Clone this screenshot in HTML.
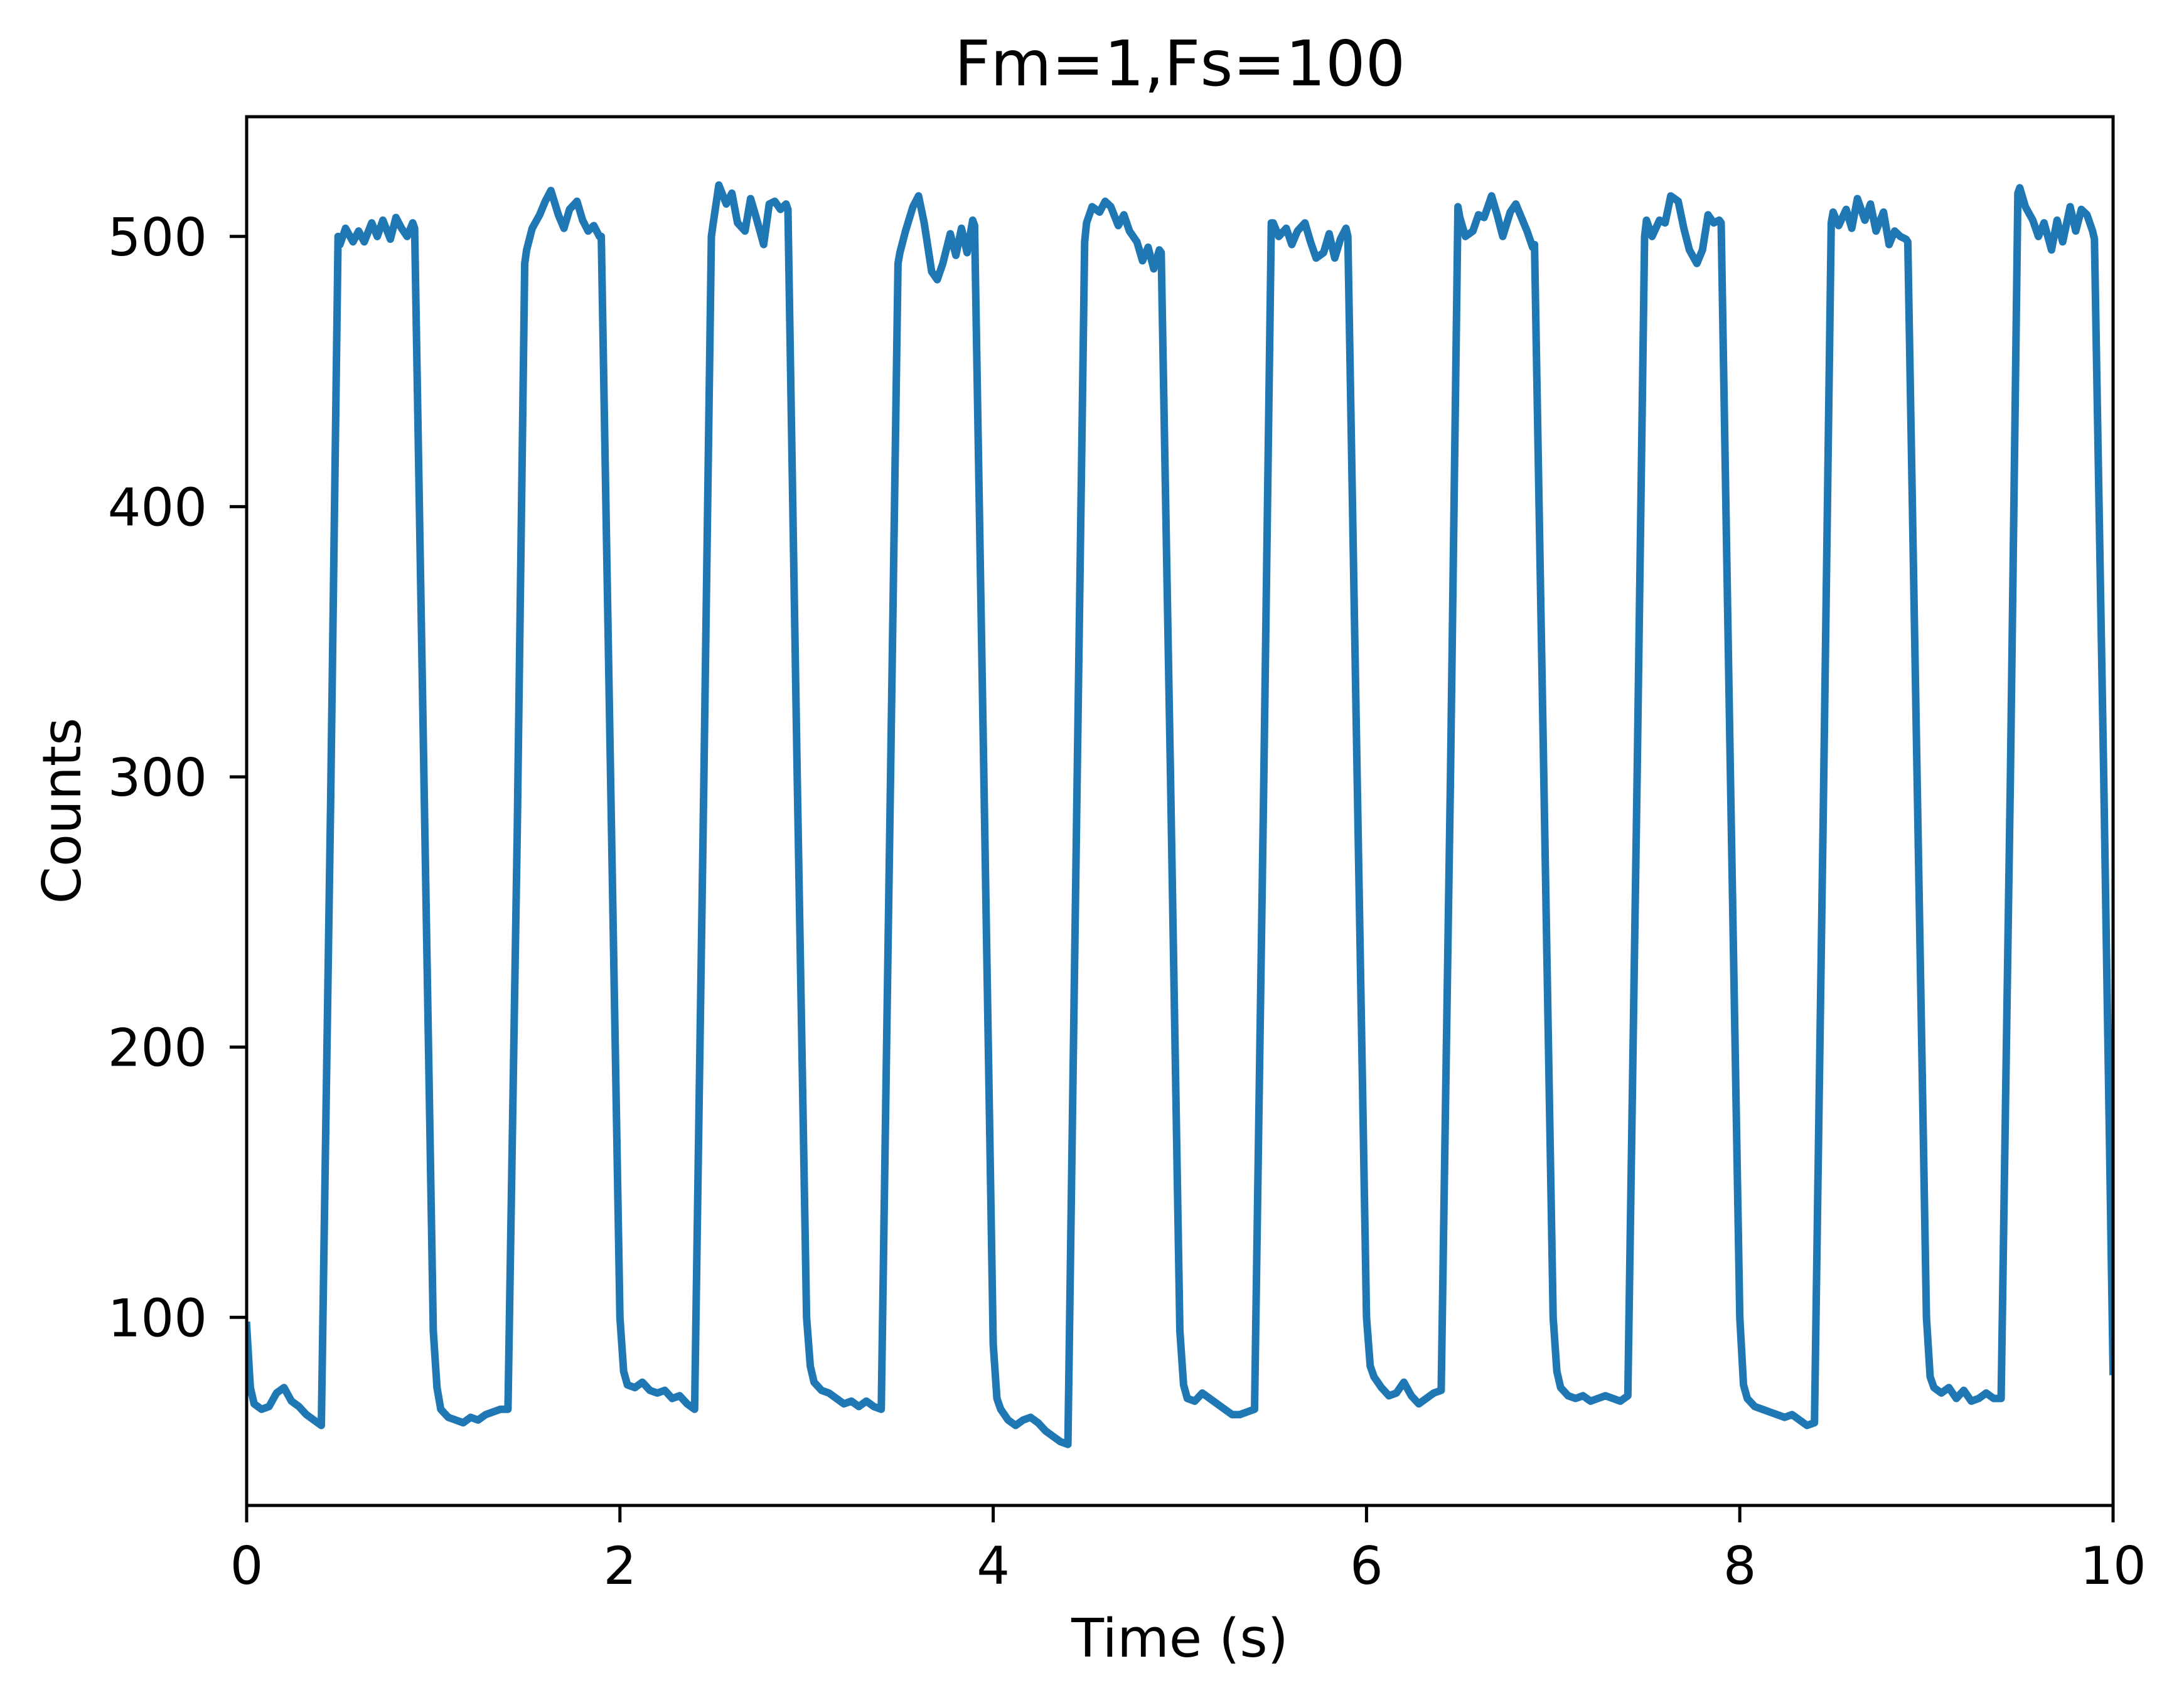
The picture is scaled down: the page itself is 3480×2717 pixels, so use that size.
<!DOCTYPE html>
<html><head><meta charset="utf-8">
<style>
html,body{margin:0;padding:0;background:#fff;}
svg{display:block;font-family:"DejaVu Sans","Liberation Sans",sans-serif;}
</style></head>
<body>
<svg id="chart" width="3480" height="2717" viewBox="0 0 3480 2717" xmlns="http://www.w3.org/2000/svg">
<rect width="3480" height="2717" fill="#fff"/>
<text x="1880" y="136" font-size="100" text-anchor="middle" fill="#000">Fm=1,Fs=100</text>
<g id="plot"></g>
<text x="1880" y="2640" font-size="85" text-anchor="middle" fill="#000">Time (s)</text>
<text transform="translate(128,1292) rotate(-90)" font-size="85" text-anchor="middle" fill="#000">Counts</text>
</svg>
<script>
const xTicks = [0, 2, 4, 6, 8, 10];
const yTicks = [100, 200, 300, 400, 500];
const times = [
0.00,0.02,0.04,0.08,0.12,0.16,0.20,0.24,0.28,0.32,0.36,0.40,
0.45,0.49,0.50,0.53,0.57,0.60,0.63,0.67,0.70,0.73,0.77,0.80,0.83,0.86,0.89,0.90,0.95,1.00,1.02,
1.04,1.08,1.12,1.16,1.20,1.24,1.28,1.32,1.36,1.40,
1.45,1.49,1.50,1.53,1.57,1.60,1.63,1.67,1.70,1.73,1.77,1.80,1.83,1.86,1.89,1.90,1.95,2.00,2.02,
2.04,2.08,2.12,2.16,2.20,2.24,2.28,2.32,2.36,2.40,
2.45,2.49,2.50,2.53,2.57,2.60,2.63,2.67,2.70,2.73,2.77,2.80,2.83,2.86,2.89,2.90,2.95,3.00,3.02,
3.04,3.08,3.12,3.16,3.20,3.24,3.28,3.32,3.36,3.40,
3.45,3.49,3.50,3.53,3.57,3.60,3.63,3.67,3.70,3.73,3.77,3.80,3.83,3.86,3.89,3.90,3.95,4.00,4.02,
4.04,4.08,4.12,4.16,4.20,4.24,4.28,4.32,4.36,4.40,
4.45,4.49,4.50,4.53,4.57,4.60,4.63,4.67,4.70,4.73,4.77,4.80,4.83,4.86,4.89,4.90,4.95,5.00,5.02,
5.04,5.08,5.12,5.16,5.20,5.24,5.28,5.32,5.36,5.40,
5.45,5.49,5.50,5.53,5.57,5.60,5.63,5.67,5.70,5.73,5.77,5.80,5.83,5.86,5.89,5.90,5.95,6.00,6.02,
6.04,6.08,6.12,6.16,6.20,6.24,6.28,6.32,6.36,6.40,
6.45,6.49,6.50,6.53,6.57,6.60,6.63,6.67,6.70,6.73,6.77,6.80,6.83,6.86,6.89,6.90,6.95,7.00,7.02,
7.04,7.08,7.12,7.16,7.20,7.24,7.28,7.32,7.36,7.40,
7.45,7.49,7.50,7.53,7.57,7.60,7.63,7.67,7.70,7.73,7.77,7.80,7.83,7.86,7.89,7.90,7.95,8.00,8.02,
8.04,8.08,8.12,8.16,8.20,8.24,8.28,8.32,8.36,8.40,
8.45,8.49,8.50,8.53,8.57,8.60,8.63,8.67,8.70,8.73,8.77,8.80,8.83,8.86,8.89,8.90,8.95,9.00,9.02,
9.04,9.08,9.12,9.16,9.20,9.24,9.28,9.32,9.36,9.40,
9.45,9.49,9.50,9.53,9.57,9.60,9.63,9.67,9.70,9.73,9.77,9.80,9.83,9.86,9.89,9.90,9.95,10.00
];
const counts = [
97,74,68,66,67,72,74,69,67,64,62,60,
290,500,497,503,498,502,498,505,500,506,499,507,503,500,505,503,300,95,74,
66,63,62,61,63,62,64,65,66,66,
280,490,495,503,508,513,517,508,503,510,513,506,502,504,500,500,300,100,80,
75,74,76,73,72,73,70,71,68,66,
300,500,505,519,512,516,505,502,514,507,497,512,513,510,512,510,300,100,82,
76,73,72,70,68,69,67,69,67,66,
300,490,494,502,511,515,505,487,484,490,501,493,503,494,506,504,300,90,70,
66,62,60,62,63,61,58,56,54,53,
300,498,505,511,509,513,511,504,508,502,498,491,496,488,495,494,300,95,75,
70,69,72,70,68,66,64,64,65,66,
300,505,505,500,503,497,502,505,498,492,494,501,492,499,503,500,300,100,82,
78,74,71,72,76,71,68,70,72,73,
300,511,507,500,502,508,507,515,508,500,509,512,507,502,496,497,300,100,80,
74,71,70,71,69,70,71,70,69,71,
300,500,506,500,506,505,515,513,503,495,490,495,508,505,506,505,300,100,75,
70,67,66,65,64,63,64,62,60,61,
300,505,509,504,510,503,514,506,512,502,509,497,502,500,499,498,300,100,78,
74,72,74,70,73,69,70,72,70,70,
300,516,518,511,506,500,505,495,506,498,511,502,510,508,502,499,300,80
];
const X0=393, X1=3367, Y0=2399, Y1=186;
const xMin=0, xMax=10, yMin=30.4, yMax=544.3;
function sx(v){return X0+(v-xMin)/(xMax-xMin)*(X1-X0);}
function sy(v){return Y0-(v-yMin)/(yMax-yMin)*(Y0-Y1);}
const NS="http://www.w3.org/2000/svg";
const plot=document.getElementById('plot');
function mk(tag,attrs){const e=document.createElementNS(NS,tag);for(const k in attrs)e.setAttribute(k,attrs[k]);return e;}

const defs=mk('defs',{});
const cp=mk('clipPath',{id:'clip'});
cp.appendChild(mk('rect',{x:X0,y:Y1,width:X1-X0,height:Y0-Y1}));
defs.appendChild(cp);plot.appendChild(defs);

let d='';
for(let i=0;i<times.length;i++){d+=(i?'L':'M')+sx(times[i]).toFixed(1)+','+sy(counts[i]).toFixed(1);}
const line=mk('path',{d:d,fill:'none',stroke:'#1f77b4','stroke-width':12,'stroke-linejoin':'round','stroke-linecap':'square','clip-path':'url(#clip)'});


plot.appendChild(line);

const frame=mk('rect',{x:X0,y:Y1,width:X1-X0,height:Y0-Y1,fill:'none',stroke:'#000','stroke-width':5});


plot.appendChild(frame);

xTicks.forEach(function(t){
  const x=sx(t);
  const tk=mk('line',{x1:x,y1:Y0,x2:x,y2:Y0+27,stroke:'#000','stroke-width':5});
  
  
  plot.appendChild(tk);
  const lb=mk('text',{x:x,y:2524,'font-size':83,'text-anchor':'middle',fill:'#000'});
  lb.textContent=String(t);
  
  
  plot.appendChild(lb);
});
yTicks.forEach(function(t){
  const y=sy(t);
  const tk=mk('line',{x1:X0-27,y1:y,x2:X0,y2:y,stroke:'#000','stroke-width':5});
  
  
  plot.appendChild(tk);
  const lb=mk('text',{x:330,y:y+30,'font-size':83,'text-anchor':'end',fill:'#000'});
  lb.textContent=String(t);
  
  
  plot.appendChild(lb);
});
</script>
</body></html>
